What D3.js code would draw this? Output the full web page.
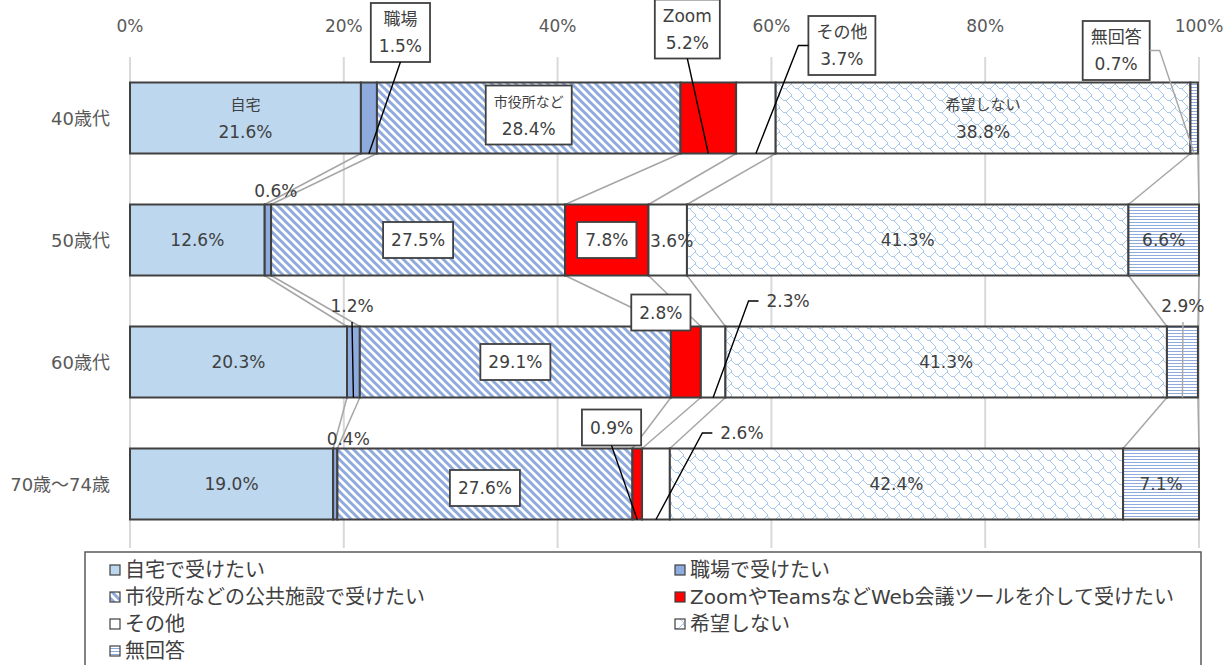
<!DOCTYPE html>
<html><head><meta charset="utf-8">
<script src="https://cdn.jsdelivr.net/npm/d3@7"></script>
<style>
html,body{margin:0;padding:0;background:#fff;}
svg{display:block;}
text{font-family:"DejaVu Sans","Noto Sans CJK JP",sans-serif;}
</style></head><body>
<svg id="chart" width="1226" height="665"></svg>
<script>
// ---------------- DATA ----------------
const categories = ["40歳代", "50歳代", "60歳代", "70歳～74歳"];
const seriesKeys = ["home", "work", "publicFac", "webConf", "other", "none", "noAnswer"];
const seriesNames = ["自宅で受けたい", "職場で受けたい", "市役所などの公共施設で受けたい",
  "ZoomやTeamsなどWeb会議ツールを介して受けたい", "その他", "希望しない", "無回答"];
const shortNames = ["自宅", "職場", "市役所など", "Zoom", "その他", "希望しない", "無回答"];
const home      = [21.6, 12.6, 20.3, 19.0];
const work      = [1.5, 0.6, 1.2, 0.4];
const publicFac = [28.4, 27.5, 29.1, 27.6];
const webConf   = [5.2, 7.8, 2.8, 0.9];
const other     = [3.7, 3.6, 2.3, 2.6];
const none      = [38.8, 41.3, 41.3, 42.4];
const noAnswer  = [0.7, 6.6, 2.9, 7.1];
const tickValues = [0, 20, 40, 60, 80, 100];
const tickLabels = ["0%", "20%", "40%", "60%", "80%", "100%"];

// ---------------- STYLE / LAYOUT ----------------
const fills = ["#bdd7ee", "#8faadc", "url(#p-diag)", "#ff0000", "#ffffff", "url(#p-shingle)", "url(#p-hstripe)"];
const ink = "#404040";
// label placement overrides: [row, series, kind, withName, dx, dy, leader, leaderColor, nameSize]
const labelLayout = [
  [0, 0, "plain", true, 0, 0.5, null, null, 15],
  [0, 1, "box", true, 31.5, -85.5, "bottom", "#000", 17],
  [0, 2, "box", true, 0, -3, null, null, 14],
  [0, 3, "box", true, -21, -89, "bottom", "#000", 17],
  [0, 4, "box", true, 86, -72.5, "left", "#000", 17],
  [0, 5, "plain", true, 0, 0.5, null, null, 15],
  [0, 6, "box", true, -78, -67.5, "right", "#a6a6a6", 17],
  [1, 1, "plain", false, 8, -49, null, null, 0],
  [1, 2, "box", false, 0, 0, null, null, 0],
  [1, 3, "box", false, 0, 0, null, null, 0],
  [1, 4, "plain", false, 4, 1, null, null, 0],
  [2, 1, "plain", false, -1.4, -56, "down", "#000", 0],
  [2, 2, "box", false, 0, 0, null, null, 0],
  [2, 3, "box", false, -25, -49.5, null, null, 0],
  [2, 4, "plain", false, 75, -61, "left", "#000", 0],
  [2, 6, "plain", false, 0.5, -56, "down", "#a6a6a6", 0],
  [3, 1, "plain", false, 13, -45, null, null, 0],
  [3, 2, "box", false, 0, 4, null, null, 0],
  [3, 3, "box", false, -25.7, -56.5, "bottom", "#000", 0],
  [3, 4, "plain", false, 86, -51, "left", "#000", 0]
];

const svg = d3.select("#chart");
const defs = svg.append("defs");

// patterns
const pd = defs.append("pattern").attr("id", "p-diag").attr("patternUnits", "userSpaceOnUse")
  .attr("width", 8).attr("height", 8);
pd.append("rect").attr("width", 8).attr("height", 8).attr("fill", "#fff");
pd.append("path").attr("d", "M-2,-2L10,10M-2,6L2,10M6,-2L10,2")
  .attr("stroke", "#8faadc").attr("stroke-width", 3).attr("fill", "none");

const shingleRows = [
  "..........XX",
  "X........X..",
  ".X......X...",
  "..X....X....",
  "...XXXX.....",
  "......X.....",
  ".......X....",
  "........X...",
  ".........X..",
  "..........X.",
  "...........X",
  "...........X"];
const ps = defs.append("pattern").attr("id", "p-shingle").attr("patternUnits", "userSpaceOnUse")
  .attr("width", 12).attr("height", 12);
ps.append("rect").attr("width", 12).attr("height", 12).attr("fill", "#fff");
shingleRows.forEach((r, yy) => r.split("").forEach((c, xx) => {
  if (c === "X") ps.append("rect").attr("x", xx).attr("y", yy).attr("width", 1).attr("height", 1).attr("fill", "#a9c9ea");
}));

const ph = defs.append("pattern").attr("id", "p-hstripe").attr("patternUnits", "userSpaceOnUse")
  .attr("width", 4).attr("height", 3);
ph.append("rect").attr("width", 4).attr("height", 3).attr("fill", "#fff");
ph.append("rect").attr("width", 4).attr("height", 1).attr("fill", "#8faadc");

// scales
const x = d3.scaleLinear().domain([0, 100]).range([130, 1199]);
const y = d3.scaleBand().domain(categories).range([57, 545]).paddingInner(0.418).paddingOuter(0.209);
const bw = y.bandwidth();

const table = categories.map((c, i) => {
  const o = { cat: c };
  [home, work, publicFac, webConf, other, none, noAnswer].forEach((arr, s) => o[seriesKeys[s]] = arr[i]);
  return o;
});
const stack = d3.stack().keys(seriesKeys)(table);

// gridlines
svg.append("g").selectAll("line").data(tickValues).join("line")
  .attr("x1", d => x(d)).attr("x2", d => x(d)).attr("y1", 57).attr("y2", 548)
  .attr("stroke", "#d9d9d9").attr("stroke-width", 2);

// top axis labels
svg.append("g").selectAll("text").data(tickValues).join("text")
  .attr("x", d => x(d)).attr("y", 26).attr("text-anchor", "middle")
  .attr("dominant-baseline", "central").attr("font-size", 17).attr("fill", "#595959")
  .text((d, i) => tickLabels[i]);

// category labels
svg.append("g").selectAll("text").data(categories).join("text")
  .attr("x", 110).attr("y", d => y(d) + bw / 2).attr("text-anchor", "end")
  .attr("dominant-baseline", "central").attr("font-size", 18).attr("fill", "#595959")
  .text(d => d);

// series lines
const sl = svg.append("g");
stack.forEach(layer => {
  for (let i = 0; i < categories.length - 1; i++) {
    sl.append("line")
      .attr("x1", x(layer[i][1])).attr("y1", y(categories[i]) + bw)
      .attr("x2", x(layer[i + 1][1])).attr("y2", y(categories[i + 1]))
      .attr("stroke", "#a6a6a6").attr("stroke-width", 1.5);
  }
});

// bars
stack.forEach((layer, s) => {
  svg.append("g").selectAll("rect").data(layer).join("rect")
    .attr("x", d => x(d[0])).attr("y", d => y(d.data.cat))
    .attr("width", d => x(d[1]) - x(d[0])).attr("height", bw)
    .attr("fill", fills[s]).attr("stroke", ink).attr("stroke-width", 2);
});

// labels
const leaderG = svg.append("g");
const labelG = svg.append("g");
categories.forEach((cat, i) => {
  stack.forEach((layer, s) => {
    const d = layer[i];
    const v = d[1] - d[0];
    const ov = labelLayout.find(l => l[0] === i && l[1] === s);
    const cfg = ov ? { kind: ov[2], withName: ov[3], dx: ov[4], dy: ov[5], leader: ov[6], lc: ov[7], ns: ov[8] }
                   : { kind: "plain", withName: false, dx: 0, dy: 0, leader: null };
    const segX = x((d[0] + d[1]) / 2);
    const barTop = y(cat), barBot = barTop + bw, barMid = barTop + bw / 2;
    const cx = segX + cfg.dx, cy = barMid + cfg.dy;
    const g = labelG.append("g");
    const box = g.append("rect");
    const texts = [];
    const valStr = (Math.round(v * 10) / 10).toFixed(1) + "%";
    if (cfg.withName) {
      texts.push(g.append("text").attr("x", cx).attr("y", cy - 13.5).attr("font-size", cfg.ns).text(shortNames[s]));
      texts.push(g.append("text").attr("x", cx).attr("y", cy + 13.5).attr("font-size", 17).text(valStr));
    } else {
      texts.push(g.append("text").attr("x", cx).attr("y", cy).attr("font-size", 17).text(valStr));
    }
    texts.forEach(t => t.attr("text-anchor", "middle").attr("dominant-baseline", "central").attr("fill", ink));
    const tw = d3.max(texts, t => t.node().getComputedTextLength());
    let bwid = tw, bh = cfg.withName ? 54 : 24;
    if (cfg.kind === "box") {
      bwid = tw + 16; bh = cfg.withName ? 59 : 36;
      box.attr("x", cx - bwid / 2).attr("y", cy - bh / 2).attr("width", bwid).attr("height", bh)
        .attr("fill", "#fff").attr("stroke", ink).attr("stroke-width", 1.8);
    } else box.remove();
    if (cfg.leader) {
      let p;
      const gap = cfg.kind === "box" ? 0 : 8;
      if (cfg.leader === "bottom") p = `M${cx},${cy + bh / 2}L${segX},${barBot}`;
      else if (cfg.leader === "down") p = `M${cx},${cy + 16}L${segX},${barBot}`;
      else if (cfg.leader === "left") { const xs = cx - bwid / 2 - gap; p = `M${xs},${cy}H${xs - 10}L${segX},${barBot}`; }
      else { const xs = cx + bwid / 2 + gap; p = `M${xs},${cy}H${xs + 10}L${segX},${barBot}`; }
      leaderG.append("path").attr("d", p).attr("fill", "none").attr("stroke", cfg.lc).attr("stroke-width", 1.4);
    }
  });
});
leaderG.raise();
labelG.selectAll("g").filter(function(){ return d3.select(this).select("rect").size() > 0; }).raise();

// legend
const lg = svg.append("g");
lg.append("rect").attr("x", 85).attr("y", 552).attr("width", 1116).attr("height", 130)
  .attr("fill", "#fff").attr("stroke", "#595959").attr("stroke-width", 1.5);
const legCols = [110, 675];
seriesNames.forEach((name, s) => {
  const cx = legCols[s % 2], cy = 570 + 27 * Math.floor(s / 2);
  lg.append("rect").attr("x", cx).attr("y", cy - 5).attr("width", 10).attr("height", 10)
    .attr("fill", fills[s]).attr("stroke", ink).attr("stroke-width", 1.2);
  lg.append("text").attr("x", cx + 15).attr("y", cy).attr("dominant-baseline", "central")
    .attr("font-size", 20).attr("fill", ink).text(name);
});
</script>
</body></html>
